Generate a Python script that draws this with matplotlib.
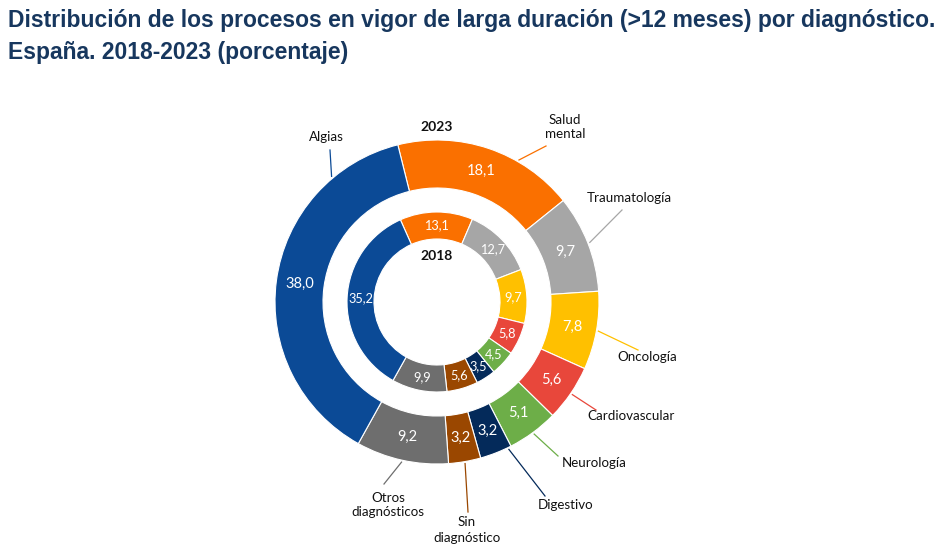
import numpy as np
import matplotlib.pyplot as plt

# data (percent) - order clockwise from top
categories = ["Salud\nmental", "Traumatología", "Oncología", "Cardiovascular",
              "Neurología", "Digestivo", "Sin\ndiagnóstico", "Otros\ndiagnósticos", "Algias"]
values_2023 = [18.1, 9.7, 7.8, 5.6, 5.1, 3.2, 3.2, 9.2, 38.0]
values_2018 = [13.1, 12.7, 9.7, 5.8, 4.5, 3.5, 5.6, 9.9, 35.2]

colors = ["#FA7000", "#A6A6A6", "#FFC000", "#E8473B", "#6DAE48",
          "#042A5A", "#9A4700", "#6E6E6E", "#0B4A96"]

# label placement (image pixels): text position, leader end, anchor angle override
label_pos = [(565, 127), (629, 198), (647, 357), (631, 416), (594, 463),
             (566, 505), (467, 530), (388, 505), (326, 137)]
line_end = [(546, 146), (622, 210), (638, 350), (596, 410), (558, 456),
            (545, 496), (468, 512), (384, 484), (330, 150)]
anchor_override = {0: 60, 5: -64, 8: 130}

W, H = 950, 552
cx, cy = 437, H - 302
R_out, w_out = 162, 48
R_in, w_in = 90, 27

fig = plt.figure(figsize=(9.5, 5.52), dpi=100)
ax = fig.add_axes([0, 0, 1, 1])

wedges_out, _ = ax.pie(values_2023, colors=colors, startangle=104, counterclock=False,
                       radius=R_out, center=(cx, cy),
                       wedgeprops=dict(width=w_out, edgecolor="white", linewidth=0.8))
wedges_in, _ = ax.pie(values_2018, colors=colors, startangle=114, counterclock=False,
                      radius=R_in, center=(cx, cy),
                      wedgeprops=dict(width=w_in, edgecolor="white", linewidth=0.8))


def fmt(v):
    return f"{v:.1f}".replace(".", ",")


lab_font = "Lato"

for w, v in zip(wedges_out, values_2023):
    a = np.deg2rad((w.theta1 + w.theta2) / 2)
    r = R_out - w_out / 2
    ax.text(cx + r * np.cos(a), cy + r * np.sin(a), fmt(v), color="white",
            ha="center", va="center", fontsize=10.5, family=lab_font)

for w, v in zip(wedges_in, values_2018):
    a = np.deg2rad((w.theta1 + w.theta2) / 2)
    r = R_in - w_in / 2
    ax.text(cx + r * np.cos(a), cy + r * np.sin(a), fmt(v), color="white",
            ha="center", va="center", fontsize=9.2, family=lab_font)

for i, (w, name) in enumerate(zip(wedges_out, categories)):
    ang = anchor_override.get(i, (w.theta1 + w.theta2) / 2)
    a = np.deg2rad(ang)
    x0, y0 = cx + (R_out + 2) * np.cos(a), cy + (R_out + 2) * np.sin(a)
    x1, y1 = line_end[i][0], H - line_end[i][1]
    ax.plot([x0, x1], [y0, y1], color=colors[i], lw=0.9)
    tx, ty = label_pos[i]
    ax.text(tx, H - ty, name, ha="center", va="center", fontsize=9.6,
            family=lab_font, color="#111111", linespacing=1.3)

ax.text(cx, H - 127, "2023", ha="center", va="center", fontsize=10,
        fontweight="bold", family=lab_font, color="#111111")
ax.text(cx, H - 256, "2018", ha="center", va="center", fontsize=10,
        fontweight="bold", family=lab_font, color="#111111")

ax.text(8, H - 21, "Distribución de los procesos en vigor de larga duración (>12 meses) por diagnóstico.",
        ha="left", va="center", fontsize=16.5, fontweight="bold",
        family="Liberation Sans", color="#17375E")
ax.text(8, H - 52, "España. 2018-2023 (porcentaje)",
        ha="left", va="center", fontsize=16.5, fontweight="bold",
        family="Liberation Sans", color="#17375E")

ax.set_xlim(0, W)
ax.set_ylim(0, H)
ax.set_aspect("equal")
ax.axis("off")

fig.savefig("out.png", dpi=100, facecolor="white")
